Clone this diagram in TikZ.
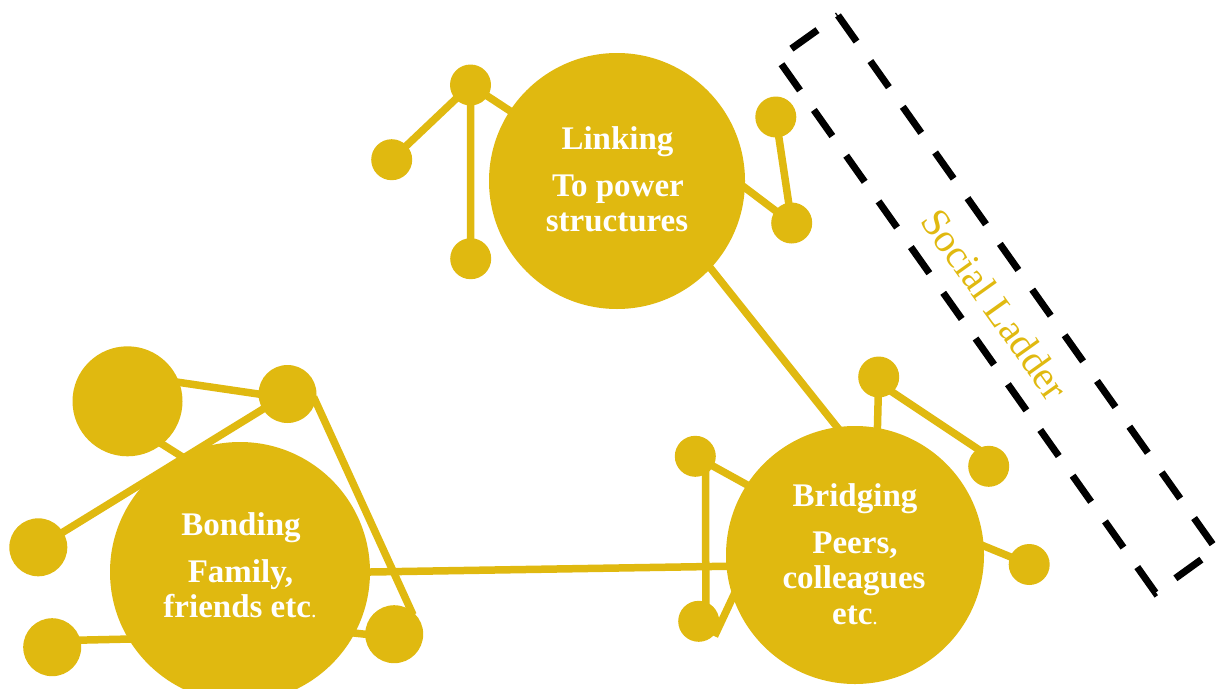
\documentclass[tikz,border=0pt]{standalone}
\usepackage{fontspec}
\setmainfont{Liberation Serif}
\usetikzlibrary{backgrounds,calc}
\definecolor{gold}{RGB}{224,185,16}
\begin{document}
\begin{tikzpicture}[x=1pt,y=-1pt,
  circ/.style={circle,fill=gold,inner sep=0pt,minimum size=#1},
  link/.style={draw=gold,line width=7.5pt,shorten <=-5pt,shorten >=-5pt},
  ttl/.style={text=white,font={\fontsize{33}{35}\selectfont\bfseries},anchor=base,inner sep=0pt},
  ladder/.style={draw=black,line width=7pt,dash pattern=on 32pt off 24pt},
]
\useasboundingbox (0,0) rectangle (1222,688);

% Linking group
\node[circ=256pt] (L) at (617,181) {};
\node[circ=41pt] (LTL) at (470.5,85) {};
\node[circ=41pt] (LL) at (391.7,159.7) {};
\node[circ=41pt] (LB) at (470.7,258.7) {};
\node[circ=41pt] (LRT) at (775.8,117) {};
\node[circ=41pt] (LRB) at (791.7,223) {};

% Bonding group
\node[circ=260pt] (D) at (240,572) {};
\node[circ=110pt] (DBig) at (127.5,401.3) {};
\node[circ=58pt] (DR) at (287.5,394) {};
\node[circ=58pt] (DL) at (38.3,547.3) {};
\node[circ=58pt] (DBL) at (52.2,647.2) {};
\node[circ=58pt] (DBR) at (394.2,634.2) {};

% Bridging group
\node[circ=258pt] (B) at (855,555) {};
\node[circ=41pt] (BT) at (878.7,377) {};
\node[circ=41pt] (BRT) at (988.7,466.3) {};
\node[circ=41pt] (BR) at (1029.2,564.5) {};
\node[circ=41pt] (BLT) at (695.3,456.3) {};
\node[circ=41pt] (BLB) at (698.7,621.3) {};

\begin{scope}[on background layer]
  % Linking
  \draw[link] (L) -- (LTL);
  \draw[link] (LL) -- (LTL);
  \draw[link] (LTL) -- (LB);
  \draw[link] (LRT) -- (LRB);
  \draw[link] (L.-3) -- (LRB);
  \draw[link] (L.-43) -- (B.98);
  % Bonding
  \draw[link] (DBig.20) -- (DR.180);
  \draw[link] (DBig.-51) -- (D.117);
  \draw[link] (DL) -- (DR);
  \draw[link] (DR.-15) -- (DBR.55);
  \draw[link] (DBL.14) -- (D.211);
  \draw[link] (D.-28.5) -- (DBR.180);
  \draw[link] (D.0) -- (B.185);
  % Bridging
  \draw[link] (BT) -- (B.80.6);
  \draw[link] ($(BT)+(0,6)$) -- ($(BRT)+(0,-10)$);
  \draw[link] (B.4.5) -- (BR);
  \draw[link] (BLT) -- (B.147);
  \draw[link] (BLT.-60) -- (BLB.70);
  \draw[link] (BLB.-30) -- (B.199);
\end{scope}

% texts
\node[ttl] (t1) at (617.5,149.3) {Linking};
\node[ttl] (t2) at (618,196.7) {To power};
\node[ttl] (t3) at (617,231.7) {structures};
\node[ttl] (t4) at (241,535) {Bonding};
\node[ttl] (t5) at (240.5,582.7) {Family,};
\node[ttl] (t6) at (240,617.3) {friends etc{\mdseries\fontsize{22}{22}\selectfont.}};
\node[ttl] (t7) at (855,506.7) {Bridging};
\node[ttl] (t8) at (855,553.3) {Peers,};
\node[ttl] (t9) at (854,588.3) {colleagues};
\node[ttl] (t10) at (855,624) {etc{\mdseries\fontsize{22}{22}\selectfont.}};

% social ladder
\coordinate (TR) at (838,15.4);
\coordinate (BRc) at (1216,549);
\coordinate (BLc) at (1155.4,592.7);
\coordinate (TL) at (777.5,58.6);
\draw[ladder] (TR) -- (BRc) -- (BLc) -- (TL) -- cycle;
\node[rotate=-54.5,text=gold,font={\fontsize{40}{40}\selectfont}] (SL) at (995,304) {Social Ladder};
\end{tikzpicture}
\end{document}
